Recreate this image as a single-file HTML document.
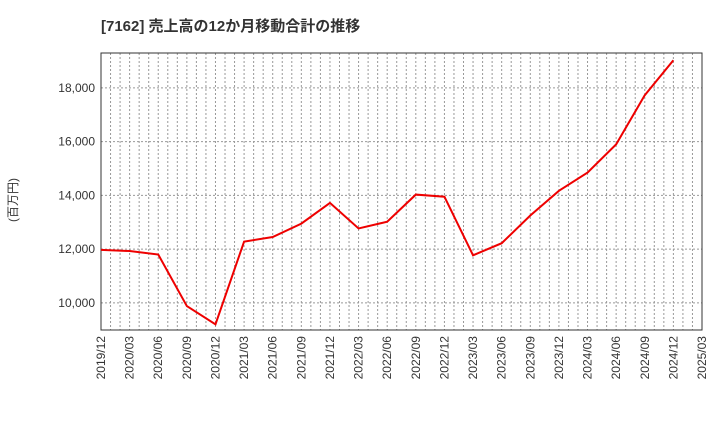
<!DOCTYPE html>
<html><head><meta charset="utf-8"><style>
body{margin:0;background:#fff;font-family:"Liberation Sans","Noto Sans CJK JP",sans-serif}
</style></head><body>
<svg id="c" width="720" height="440" xmlns="http://www.w3.org/2000/svg">
<text x="101" y="31" font-size="15" font-weight="bold" fill="#333" font-family="Liberation Sans, Noto Sans CJK JP, sans-serif">[7162]  売上高の12か月移動合計の推移</text>
<text transform="translate(17,200) rotate(-90)" text-anchor="middle" font-size="12" fill="#333" font-family="Liberation Sans, Noto Sans CJK JP, sans-serif">(百万円)</text>
<g id="grid"></g><g id="ax"></g><g id="ser"></g>
</svg>
<script>
const xLabels=["2019/12","2020/03","2020/06","2020/09","2020/12","2021/03","2021/06","2021/09","2021/12","2022/03","2022/06","2022/09","2022/12","2023/03","2023/06","2023/09","2023/12","2024/03","2024/06","2024/09","2024/12","2025/03"];
const values=[11970,11930,11800,9880,9200,12280,12450,12950,13720,12770,13020,14030,13950,11770,12220,13250,14170,14850,15900,17730,19030];
const yTicks=[10000,12000,14000,16000,18000];
const L=101,R=702,T=53,B=330,yMin=8990,yMax=19300;
const ns="http://www.w3.org/2000/svg";
const x=i=>L+(R-L)*i/(xLabels.length-1);
const y=v=>B-(v-yMin)/(yMax-yMin)*(B-T);
function mk(t,a,p){const e=document.createElementNS(ns,t);for(const k in a)e.setAttribute(k,a[k]);p.appendChild(e);return e;}
const g=document.getElementById('grid'),ax=document.getElementById('ax'),s=document.getElementById('ser');
for(let m=1;m<(xLabels.length-1)*3;m++){const xx=L+(R-L)*m/((xLabels.length-1)*3);
const l=mk('line',{x1:xx,x2:xx,y1:T,y2:B,stroke:'#999','stroke-dasharray':'2,2','stroke-width':1},g);

}
yTicks.forEach(v=>{const l=mk('line',{x1:L,x2:R,y1:y(v),y2:y(v),stroke:'#999','stroke-dasharray':'2,2'},g);


const t=mk('text',{x:L-6,y:y(v)+4,'text-anchor':'end','font-size':12,fill:'#333'},ax);t.textContent=v.toLocaleString('en-US');

});
xLabels.forEach((lb,i)=>{const t=mk('text',{transform:`translate(${x(i)+4},${B+6}) rotate(-90)`,'text-anchor':'end','font-size':12,fill:'#333'},ax);t.textContent=lb;

});
const f=mk('rect',{x:L,y:T,width:R-L,height:B-T,fill:'none',stroke:'#333'},ax);


const p=mk('polyline',{points:values.map((v,i)=>x(i)+','+y(v)).join(' '),fill:'none',stroke:'#e00','stroke-width':2},s);


</script>
</body></html>
